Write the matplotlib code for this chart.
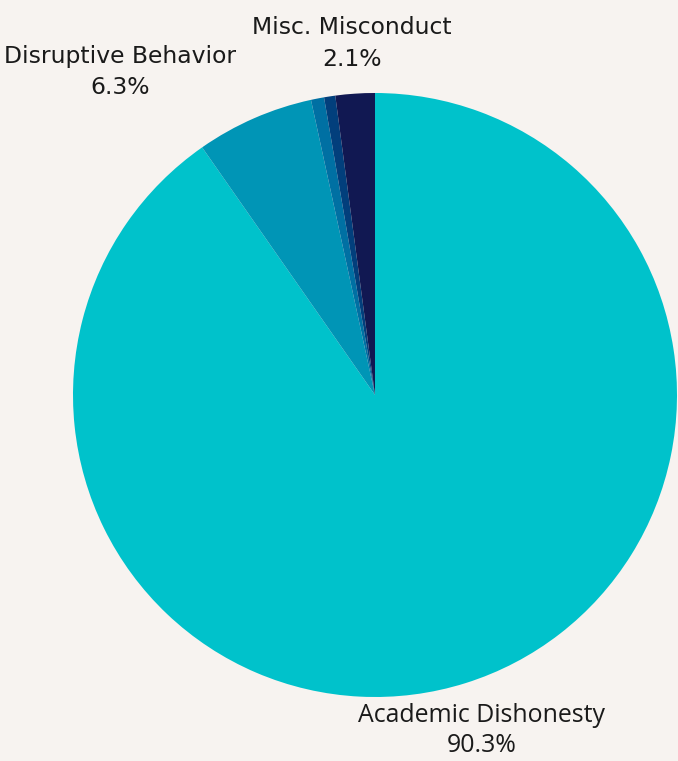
import matplotlib.pyplot as plt

# --- Data ---
categories = ["Academic Dishonesty", "Disruptive Behavior", "Other A", "Other B", "Misc. Misconduct"]
shares = [90.3, 6.3, 0.7, 0.6, 2.1]
colors = ["#00C2CB", "#0095B6", "#0070A3", "#023F7C", "#111852"]
bg = "#F7F3F0"

fig = plt.figure(figsize=(6.78, 7.61), dpi=100, facecolor=bg)
W, H = 678, 761
cx, cy, r = 375, 395, 302
ax = fig.add_axes([(cx - r) / W, (H - cy - r) / H, 2 * r / W, 2 * r / H])
ax.set_facecolor(bg)

ax.pie(shares, colors=colors, startangle=90, counterclock=False,
       wedgeprops=dict(linewidth=0))
ax.set_xlim(-1, 1)
ax.set_ylim(-1, 1)
ax.set_aspect("equal")
ax.axis("off")

# --- Labels (only the three named slices) ---
def px_text(x, y, s, **kw):
    fig.text(x / W, 1 - y / H, s, ha="center", va="center", color="#1a1a1a", **kw)

top_font = ["DejaVu Sans"]
px_text(352, 27, categories[4], fontsize=16.9, family=top_font)
px_text(352, 60, f"{shares[4]}%", fontsize=16.9, family=top_font)
px_text(120, 56, categories[1], fontsize=16.9, family=top_font)
px_text(120, 88, f"{shares[1]}%", fontsize=16.9, family=top_font)
px_text(482, 715, categories[0], fontsize=17.9, family=["Open Sans"])
px_text(482, 746, f"{shares[0]}%", fontsize=17.9, family=["Open Sans"])

fig.savefig("out.png", dpi=100, facecolor=bg)
